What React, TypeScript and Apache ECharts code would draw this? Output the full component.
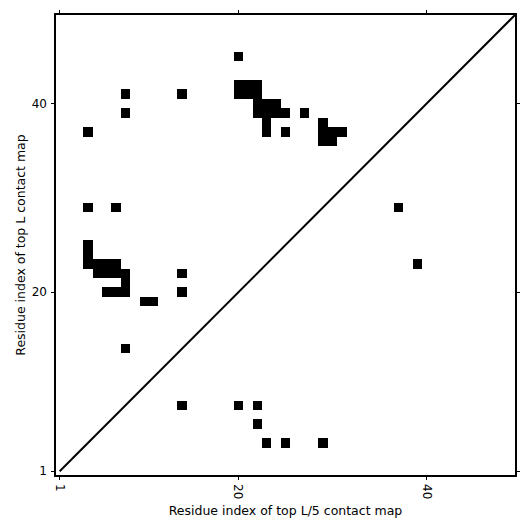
import React, { useEffect, useRef } from "react";
import * as echarts from "echarts";

const upperCells: [number, number][] = [
  [20, 45],
  [8, 41], [14, 41],
  [8, 39],
  [4, 37],
  [20, 41], [21, 41], [22, 41], [20, 42], [21, 42], [22, 42],
  [22, 40], [23, 40], [24, 40],
  [22, 39], [23, 39], [24, 39], [25, 39],
  [23, 38], [23, 37], [25, 37],
  [27, 39],
  [29, 38], [29, 37], [30, 37], [31, 37], [29, 36], [30, 36],
  [4, 29], [7, 29],
  [4, 25], [4, 24], [4, 23], [5, 23], [6, 23], [7, 23],
  [5, 22], [6, 22], [7, 22], [8, 22],
  [8, 21],
  [6, 20], [7, 20], [8, 20],
  [14, 22], [14, 20],
  [10, 19], [11, 19],
  [8, 14],
];

const lowerCells: [number, number][] = [
  [37, 29], [39, 23],
  [14, 8], [20, 8], [22, 8], [22, 6], [23, 4], [25, 4], [29, 4],
];

const tickValues = [1, 20, 40];
const axisMin = 0.5;
const axisMax = 49.5;
const diagonal: [number, number][] = [[1, 1], [49.5, 49.5]];

const FONT = "DejaVu Sans";

export default function App() {
  const ref = useRef<HTMLDivElement>(null);
  useEffect(() => {
    document.body.style.margin = "0";
    if (!ref.current) return;
    const chart = echarts.init(ref.current, undefined, { renderer: "svg" });
    const lineStyle = { color: "#000", width: 2 };
    const tickStyle = { color: "#000", width: 1 };
    const baseAxis = {
      type: "value" as const,
      min: axisMin,
      max: axisMax,
      splitLine: { show: false },
      axisLine: { show: true, onZero: false, lineStyle },
    };
    const renderItem = (params: any, api: any) => {
      const x = api.value(0);
      const y = api.value(1);
      const p0 = api.coord([x - 0.5, y + 0.5]);
      const p1 = api.coord([x + 0.5, y - 0.5]);
      const x0 = Math.round(p0[0]);
      const y0 = Math.round(p0[1]);
      const x1 = Math.round(p1[0]);
      const y1 = Math.round(p1[1]);
      return {
        type: "rect",
        shape: { x: x0, y: y0, width: x1 - x0, height: y1 - y0 },
        style: { fill: "#000" },
      };
    };
    chart.setOption({
      animation: false,
      backgroundColor: "#fff",
      grid: { left: 55, top: 14, width: 461, height: 462, containLabel: false },
      xAxis: [
        {
          ...baseAxis,
          position: "bottom",
          name: "Residue index of top L/5 contact map",
          nameLocation: "middle",
          nameGap: 28,
          nameMoveOverlap: false,
          nameTextStyle: { fontFamily: FONT, fontSize: 12.5, color: "#000" },
          axisTick: { show: true, length: 4, lineStyle: tickStyle, customValues: tickValues },
          axisLabel: {
            show: true,
            rotate: -90,
            customValues: tickValues,
            fontFamily: FONT,
            fontSize: 12,
            color: "#000",
            margin: 8,
          },
        },
        {
          ...baseAxis,
          position: "top",
          axisTick: { show: true, length: 4, lineStyle: tickStyle, customValues: tickValues },
          axisLabel: { show: false },
        },
      ],
      yAxis: [
        {
          ...baseAxis,
          position: "left",
          name: "Residue index of top L contact map",
          nameLocation: "middle",
          nameGap: 28,
          nameMoveOverlap: false,
          nameTextStyle: { fontFamily: FONT, fontSize: 12.5, color: "#000" },
          axisTick: { show: true, length: 4, lineStyle: tickStyle, customValues: tickValues },
          axisLabel: {
            show: true,
            customValues: tickValues,
            fontFamily: FONT,
            fontSize: 12,
            color: "#000",
            margin: 8,
          },
        },
        {
          ...baseAxis,
          position: "right",
          axisTick: { show: true, length: 4, lineStyle: tickStyle, customValues: tickValues },
          axisLabel: { show: false },
        },
      ],
      series: [
        {
          type: "custom",
          xAxisIndex: 0,
          yAxisIndex: 0,
          renderItem,
          data: upperCells,
          clip: true,
        },
        {
          type: "custom",
          xAxisIndex: 0,
          yAxisIndex: 0,
          renderItem,
          data: lowerCells,
          clip: true,
        },
        {
          type: "line",
          xAxisIndex: 0,
          yAxisIndex: 0,
          data: diagonal,
          symbol: "none",
          lineStyle: { color: "#000", width: 2 },
        },
      ],
    });
    return () => chart.dispose();
  }, []);
  return <div ref={ref} style={{ width: 531, height: 531 }} />;
}
